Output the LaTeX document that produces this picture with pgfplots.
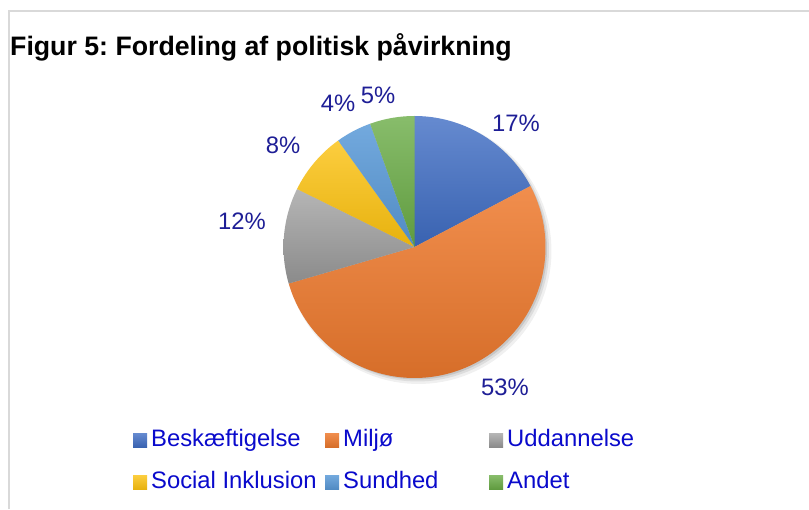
\documentclass[border=0pt]{standalone}
\usepackage{pgfplots}
\pgfplotsset{compat=1.18}
\usepackage{fontspec}
\setmainfont{Liberation Sans}
\frenchspacing
\definecolor{lbl}{HTML}{1E1E96}
\definecolor{leg}{HTML}{0A0ACC}
\definecolor{frame}{HTML}{D9D9D9}
\definecolor{cBlue}{HTML}{3F6DC4}
\definecolor{cOrange}{HTML}{EE7A2E}
\definecolor{cGray}{HTML}{A3A3A3}
\definecolor{cYellow}{HTML}{FBC10F}
\definecolor{cLblue}{HTML}{5A9AD8}
\definecolor{cGreen}{HTML}{6AAC46}
\begin{document}
\begin{tikzpicture}[x=1pt,y=1pt]
\useasboundingbox (0,0) rectangle (809,509);
\fill[white] (0,0) rectangle (809,509);
\draw[frame, line width=2pt] (9,0) -- (9,497.5) -- (809,497.5);
\node[anchor=base west, inner sep=0pt, font=\fontsize{26.7}{30}\selectfont\bfseries] at (10,453) {Figur 5: Fordeling af politisk påvirkning};
\begin{axis}[
  x=1pt, y=1pt, xmin=0, xmax=809, ymin=0, ymax=509,
  at={(0,0)}, anchor=origin, hide axis, clip=false,
  legend columns=3,
  legend style={at={(axis cs:133,81)}, anchor=north west, draw=none, fill=none,
    inner sep=0pt, row sep=18pt,
    nodes={inner sep=0pt, text height=18pt, text depth=6pt, anchor=base west,
      font=\fontsize{23.8}{26}\selectfont, text=leg},
    /tikz/every odd column/.append style={column sep=4pt},
    /tikz/every even column/.append style={column sep=0pt}},
  legend cell align=left,
  legend image code/.code={\fill[#1] (0pt,-1pt) rectangle (14pt,13pt);},
]
% soft shadow
\addplot[draw=none, fill=black, fill opacity=0.06, domain=0:360, samples=120, forget plot] ({418.5+133*sin(x)},{258+133*cos(x)});
\addplot[draw=none, fill=black, fill opacity=0.08, domain=0:360, samples=120, forget plot] ({417.5+131.5*sin(x)},{259+131.5*cos(x)});
\addplot[draw=none, fill=black, fill opacity=0.10, domain=0:360, samples=120, forget plot] ({416.5+130.5*sin(x)},{260+130.5*cos(x)});
% slices: domain = cumulative percentages, clockwise from 12 o'clock
\addplot[draw=none, top color=cBlue!80!white, bottom color=cBlue!90!black, domain=0:17.3, samples=40]
  ({414.5+131*sin(3.6*x)},{262+131*cos(3.6*x)}) -- (axis cs:414.5,262) -- cycle;
\addlegendentry{\makebox[174pt][l]{Beskæftigelse}}
\addplot[draw=none, top color=cOrange!85!white, bottom color=cOrange!90!black, domain=17.3:70.5, samples=120]
  ({414.5+131*sin(3.6*x)},{262+131*cos(3.6*x)}) -- (axis cs:414.5,262) -- cycle;
\addlegendentry{\makebox[146pt][l]{Miljø}}
\addplot[draw=none, top color=cGray!80!white, bottom color=cGray!85!black, domain=70.5:82.3, samples=30]
  ({414.5+131*sin(3.6*x)},{262+131*cos(3.6*x)}) -- (axis cs:414.5,262) -- cycle;
\addlegendentry{Uddannelse}
\addplot[draw=none, top color=cYellow!80!white, bottom color=cYellow!92!black, domain=82.3:90.1, samples=20]
  ({414.5+131*sin(3.6*x)},{262+131*cos(3.6*x)}) -- (axis cs:414.5,262) -- cycle;
\addlegendentry{\makebox[174pt][l]{Social Inklusion}}
\addplot[draw=none, top color=cLblue!85!white, bottom color=cLblue!90!black, domain=90.1:94.5, samples=15]
  ({414.5+131*sin(3.6*x)},{262+131*cos(3.6*x)}) -- (axis cs:414.5,262) -- cycle;
\addlegendentry{\makebox[146pt][l]{Sundhed}}
\addplot[draw=none, top color=cGreen!80!white, bottom color=cGreen!90!black, domain=94.5:100, samples=15]
  ({414.5+131*sin(3.6*x)},{262+131*cos(3.6*x)}) -- (axis cs:414.5,262) -- cycle;
\addlegendentry{Andet}
% data labels
\addplot[draw=none, mark=none, forget plot, nodes near coords, point meta=explicit symbolic,
  every node near coord/.style={anchor=center, inner sep=0pt, text=lbl, font=\fontsize{23.8}{26}\selectfont}]
  coordinates {(516,386)[17\%] (505,122)[53\%] (242,288)[12\%] (283,364)[8\%] (338,406)[4\%] (378,414)[5\%]};
\end{axis}
\end{tikzpicture}
\end{document}
